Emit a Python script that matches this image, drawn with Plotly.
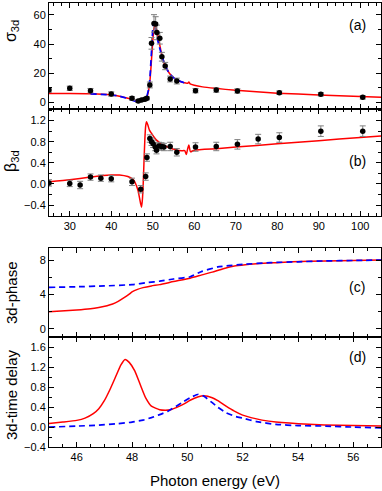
import plotly.graph_objects as go

# ---------------- data ----------------
# (a) cross section sigma_3d : experimental points
a_E = [25, 30, 35, 40, 45, 46.5, 47.3, 48.1, 48.6, 49.3, 49.7, 50.3, 50.7, 51.0, 51.7, 52.2, 53.0, 54.2, 55.8, 60.3, 65.3, 70.4, 80.5, 90.5, 100.6]
a_sig = [8.4, 9.6, 8.0, 5.7, 2.7, 0.9, 1.6, 2.1, 2.7, 11.9, 40.5, 54.2, 53.8, 48.0, 44.0, 31.3, 24.9, 16.0, 14.6, 8.0, 8.4, 7.8, 6.6, 5.5, 3.4]
a_err = [1.5, 1.5, 1.5, 1.5, 1.2, 1.0, 1.0, 1.0, 1.0, 2.0, 4.0, 6.0, 5.0, 5.0, 4.0, 3.0, 2.5, 2.0, 2.0, 1.5, 1.5, 1.5, 1.2, 1.2, 1.2]

# (a) theory curves
a_red_E = [25, 30, 35, 40, 42, 44, 45, 46, 46.8, 47.5, 48, 48.5, 49, 49.3, 49.6, 50, 50.3, 50.6, 51, 51.5, 52, 52.5, 53, 54, 55, 56, 57, 58, 58.4, 58.7, 59, 60, 62, 65, 70, 75, 80, 90, 100, 105]
a_red = [6.0, 6.0, 5.8, 5.0, 4.2, 2.8, 1.8, 0.8, 0.5, 0.8, 1.5, 3, 8, 14, 25, 42, 51, 53, 49, 42, 35, 29, 25, 20, 17, 15, 14, 13.2, 13.0, 13.9, 12.6, 11.7, 10.6, 9.6, 8.2, 7.2, 6.3, 5.0, 3.9, 3.5]
a_blue_E = [35, 40, 42, 44, 45, 46, 47, 48, 48.5, 49, 49.3, 49.6, 50, 50.2, 50.5, 51, 51.5, 52, 53, 54, 55, 56, 57, 58]
a_blue = [5.8, 5.0, 4.2, 2.6, 1.5, 0.6, 0.6, 1.6, 3.5, 9, 16, 30, 50, 55, 53, 45, 39, 34, 25, 20, 17, 15, 14, 13]

# (b) asymmetry parameter beta_3d
b_E = [25, 30, 32.5, 35, 37.5, 40, 45, 47.1, 48.3, 48.6, 49.3, 49.7, 50.1, 50.6, 50.9, 51.5, 52.1, 52.7, 54.2, 55.8, 60.3, 65.3, 70.4, 75.4, 80.5, 90.5, 100.6]
b_beta = [0.02, 0.01, -0.02, 0.13, 0.11, 0.10, 0.04, -0.10, 0.14, 0.50, 0.86, 0.80, 0.76, 0.70, 0.64, 0.72, 0.71, 0.70, 0.71, 0.60, 0.70, 0.71, 0.75, 0.85, 0.88, 1.00, 1.00]
b_err = [0.06, 0.06, 0.07, 0.06, 0.06, 0.06, 0.07, 0.07, 0.07, 0.07, 0.07, 0.07, 0.07, 0.07, 0.07, 0.07, 0.07, 0.07, 0.08, 0.07, 0.08, 0.08, 0.09, 0.09, 0.09, 0.1, 0.1]

b_red_E = [25, 30, 35, 38, 40, 42, 44, 45, 45.5, 46, 46.5, 46.8, 47.1, 47.3, 47.5, 47.7, 47.9, 48.1, 48.3, 48.5, 48.8, 49.2, 49.7, 50.3, 50.9, 51.7, 52.5, 53.3, 54.1, 55, 55.7, 57, 57.7, 58.1, 58.4, 58.7, 59.1, 60, 66, 70, 80, 90, 100, 105]
b_red = [0.04, 0.08, 0.13, 0.16, 0.17, 0.17, 0.14, 0.10, 0.06, -0.02, -0.14, -0.26, -0.38, -0.44, -0.30, 0.00, 0.45, 0.85, 1.10, 1.18, 1.12, 1.02, 0.96, 0.89, 0.83, 0.78, 0.74, 0.71, 0.68, 0.66, 0.64, 0.63, 0.63, 0.56, 0.66, 0.74, 0.61, 0.64, 0.67, 0.70, 0.76, 0.82, 0.88, 0.91]

# (c) 3d phase
c_red_E = [45, 46, 46.5, 46.8, 47.1, 47.3, 47.5, 47.7, 47.9, 48.0, 48.2, 48.4, 48.7, 49.0, 49.5, 50.1, 50.5, 50.9, 51.3, 51.7, 52.1, 52.6, 53.2, 53.8, 55, 56, 57]
c_red = [2.0, 2.2, 2.35, 2.5, 2.7, 2.9, 3.2, 3.6, 4.05, 4.3, 4.6, 4.8, 5.0, 5.15, 5.5, 5.9, 6.25, 6.6, 7.0, 7.3, 7.45, 7.6, 7.7, 7.8, 7.9, 7.95, 8.0]
c_blue_E = [45, 46, 47, 48, 48.6, 49, 49.5, 50.1, 50.5, 51.1, 51.5, 52, 53, 54, 55, 56, 57]
c_blue = [4.83, 4.9, 5.0, 5.15, 5.4, 5.55, 5.8, 6.06, 6.65, 7.2, 7.35, 7.5, 7.7, 7.8, 7.9, 7.95, 8.0]

# (d) 3d time delay
d_red_E = [45, 45.5, 46, 46.3, 46.6, 46.8, 47.0, 47.2, 47.4, 47.6, 47.75, 47.9, 48.1, 48.3, 48.5, 48.7, 49.0, 49.2, 49.4, 49.6, 49.9, 50.1, 50.4, 50.6, 50.9, 51.1, 51.4, 51.7, 52.0, 52.3, 52.7, 53.2, 54.4, 55.5, 57]
d_red = [0.07, 0.1, 0.135, 0.18, 0.27, 0.37, 0.53, 0.75, 1.0, 1.25, 1.36, 1.3, 1.13, 0.85, 0.58, 0.42, 0.35, 0.34, 0.35, 0.39, 0.47, 0.54, 0.61, 0.63, 0.59, 0.53, 0.42, 0.32, 0.24, 0.19, 0.14, 0.1, 0.055, 0.035, 0.02]
d_blue_E = [45, 46, 46.8, 47.5, 48, 48.4, 48.7, 49, 49.3, 49.6, 49.8, 50.1, 50.4, 50.6, 50.9, 51.1, 51.4, 51.7, 52, 52.5, 53.2, 54, 55, 56, 57]
d_blue = [0.0, 0.02, 0.04, 0.07, 0.1, 0.14, 0.19, 0.25, 0.32, 0.42, 0.49, 0.59, 0.66, 0.62, 0.49, 0.4, 0.29, 0.22, 0.18, 0.11, 0.055, 0.03, 0.02, 0.0, -0.015]

panel_labels = ["(a)", "(b)", "(c)", "(d)"]
y_titles = ["σ<sub>3d</sub>", "β<sub>3d</sub>", "3d-phase", "3d-time delay"]
x_title = "Photon energy (eV)"

# ---------------- figure ----------------
RED = "#ff0000"
BLUE = "#0000ff"
FONT = "Arial, Liberation Sans, sans-serif"

fig = go.Figure()

def red(x, y, xa, ya):
    fig.add_trace(go.Scatter(x=x, y=y, mode="lines", xaxis=xa, yaxis=ya,
                             line=dict(color=RED, width=1.5, shape="spline", smoothing=0.5),
                             showlegend=False, hoverinfo="skip"))

def blue(x, y, xa, ya):
    fig.add_trace(go.Scatter(x=x, y=y, mode="lines", xaxis=xa, yaxis=ya,
                             line=dict(color=BLUE, width=1.7, dash="6px,4px", shape="spline", smoothing=0.5),
                             showlegend=False, hoverinfo="skip"))

def pts(x, y, e, xa, ya):
    fig.add_trace(go.Scatter(x=x, y=y, mode="markers", xaxis=xa, yaxis=ya,
                             marker=dict(color="black", size=5.5),
                             error_y=dict(type="data", array=e, color="#7f7f7f", thickness=1, width=3),
                             showlegend=False, cliponaxis=True))

red(a_red_E, a_red, "x", "y")
blue(a_blue_E, a_blue, "x", "y")
pts(a_E, a_sig, a_err, "x", "y")

red(b_red_E, b_red, "x2", "y2")
pts(b_E, b_beta, b_err, "x2", "y2")

red(c_red_E, c_red, "x3", "y3")
blue(c_blue_E, c_blue, "x3", "y3")

red(d_red_E, d_red, "x4", "y4")
blue(d_blue_E, d_blue, "x4", "y4")

def ax(**kw):
    base = dict(showline=True, linecolor="black", linewidth=1, mirror="ticks",
                ticks="inside", ticklen=5, tickwidth=1, tickcolor="black",
                showgrid=False, zeroline=False,
                tickfont=dict(family=FONT, size=11, color="black"))
    base.update(kw)
    return base

L, R, T, B = 49, 1, 3, 44
W, H = 382, 491
ph = H - T - B
def fy(px):
    return (H - B - px) / ph
def fx(px):
    return (px - L) / (W - L - R)

fig.update_layout(
    width=W, height=H,
    margin=dict(l=L, r=R, t=T, b=B),
    paper_bgcolor="white", plot_bgcolor="white",
    font=dict(family=FONT, color="black"),
    xaxis=ax(anchor="y", domain=[0, 1], range=[25, 105], dtick=10, tick0=0,
             showticklabels=False, minor=dict(dtick=2, ticks="inside", ticklen=3, tickcolor="black")),
    yaxis=ax(anchor="x", domain=[fy(109), 1], range=[-4.6, 68.2], dtick=20, tick0=0,
             minor=dict(dtick=10, ticks="inside", ticklen=3, tickcolor="black")),
    xaxis2=ax(anchor="y2", domain=[0, 1], range=[25, 105], dtick=10, tick0=0,
              minor=dict(dtick=2, ticks="inside", ticklen=3, tickcolor="black")),
    yaxis2=ax(anchor="x2", domain=[fy(216), fy(109)], range=[-0.607, 1.42], dtick=0.4, tick0=0,
              tickformat=".1f", minor=dict(dtick=0.2, ticks="inside", ticklen=3, tickcolor="black")),
    xaxis3=ax(anchor="y3", domain=[0, 1], range=[45, 57], dtick=2, tick0=0,
              showticklabels=False, minor=dict(dtick=0.5, ticks="inside", ticklen=3, tickcolor="black")),
    yaxis3=ax(anchor="x3", domain=[fy(337), fy(248)], range=[-0.93, 9.4], dtick=4, tick0=0,
              minor=dict(dtick=2, ticks="inside", ticklen=3, tickcolor="black")),
    xaxis4=ax(anchor="y4", domain=[0, 1], range=[45, 57], dtick=2, tick0=0,
              minor=dict(dtick=0.5, ticks="inside", ticklen=3, tickcolor="black")),
    yaxis4=ax(anchor="x4", domain=[0, fy(337)], range=[-0.4, 1.81], dtick=0.4, tick0=0,
              tickformat=".1f", minor=dict(dtick=0.2, ticks="inside", ticklen=3, tickcolor="black")),
)

# panel labels
for lab, ypx in zip(panel_labels, [25, 161, 287, 357]):
    fig.add_annotation(text=lab, xref="paper", yref="paper", x=fx(357), y=fy(ypx),
                       showarrow=False, font=dict(family=FONT, size=14, color="black"),
                       xanchor="center", yanchor="middle")

# y titles
for t, ypx, fs in zip(y_titles, [31, 161, 293, 395], [16, 16, 15, 15]):
    fig.add_annotation(text=t, xref="paper", yref="paper", x=fx(11), y=fy(ypx),
                       showarrow=False, textangle=-90, font=dict(family=FONT, size=fs, color="black"),
                       xanchor="center", yanchor="middle")

fig.add_annotation(text=x_title, xref="paper", yref="paper", x=0.5, y=fy(481),
                   showarrow=False, font=dict(family=FONT, size=15, color="black"),
                   xanchor="center", yanchor="middle")

fig.write_html("out.html",
               config={"displayModeBar": False},
               post_script="document.body.style.margin='0';document.body.style.overflow='hidden';")
